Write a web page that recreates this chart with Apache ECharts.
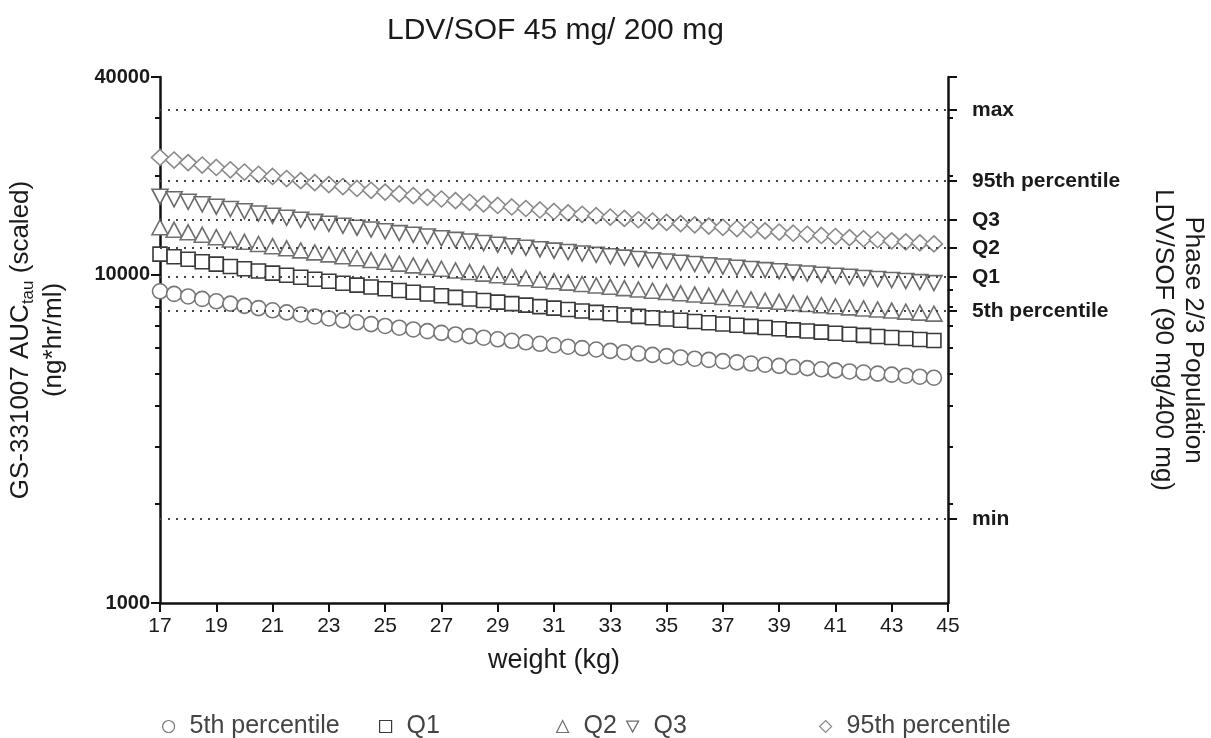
<!DOCTYPE html>
<html>
<head>
<meta charset="utf-8">
<script src="https://cdn.jsdelivr.net/npm/echarts@6/dist/echarts.min.js"></script>
<style>
  html, body { margin: 0; padding: 0; background: #fff; }
  #chart { width: 1211px; height: 738px; }
</style>
</head>
<body>
<div id="chart"></div>
<script>
// weight (kg), one marker every 0.5 kg
var weights = [17, 17.5, 18, 18.5, 19, 19.5, 20, 20.5, 21, 21.5, 22, 22.5, 23, 23.5, 24, 24.5,
  25, 25.5, 26, 26.5, 27, 27.5, 28, 28.5, 29, 29.5, 30, 30.5, 31, 31.5, 32, 32.5, 33, 33.5,
  34, 34.5, 35, 35.5, 36, 36.5, 37, 37.5, 38, 38.5, 39, 39.5, 40, 40.5, 41, 41.5, 42, 42.5,
  43, 43.5, 44, 44.5];

var p5 = [8900, 8739, 8585, 8438, 8298, 8163, 8034, 7910, 7791, 7676, 7566, 7459, 7357, 7258,
  7162, 7070, 6980, 6894, 6810, 6729, 6650, 6574, 6499, 6427, 6357, 6289, 6223, 6158, 6096,
  6035, 5975, 5917, 5860, 5805, 5751, 5698, 5647, 5597, 5548, 5500, 5453, 5407, 5362, 5318,
  5275, 5233, 5192, 5151, 5111, 5072, 5034, 4997, 4960, 4924, 4889, 4854];

var q1 = [11550, 11341, 11141, 10951, 10768, 10594, 10426, 10265, 10110, 9962, 9818, 9680,
  9547, 9419, 9295, 9175, 9059, 8946, 8838, 8732, 8630, 8531, 8435, 8341, 8250, 8162, 8076,
  7992, 7911, 7832, 7754, 7679, 7605, 7534, 7464, 7395, 7329, 7263, 7200, 7137, 7077, 7017,
  6959, 6902, 6846, 6791, 6737, 6685, 6633, 6583, 6533, 6485, 6437, 6390, 6345, 6300];

var q2 = [13950, 13698, 13457, 13227, 13006, 12795, 12592, 12398, 12211, 12032, 11859, 11692,
  11531, 11376, 11226, 11081, 10941, 10805, 10674, 10547, 10423, 10304, 10187, 10074, 9965,
  9858, 9754, 9653, 9555, 9459, 9365, 9274, 9186, 9099, 9014, 8932, 8851, 8773, 8696, 8620,
  8547, 8475, 8405, 8336, 8268, 8202, 8137, 8074, 8012, 7951, 7891, 7832, 7775, 7718, 7663, 7609];

var q3 = [17280, 16967, 16669, 16384, 16111, 15849, 15598, 15358, 15126, 14904, 14689, 14483,
  14283, 14091, 13906, 13727, 13553, 13385, 13222, 13065, 12912, 12763, 12619, 12479, 12343,
  12211, 12083, 11957, 11835, 11717, 11601, 11488, 11378, 11271, 11166, 11064, 10964, 10867,
  10771, 10678, 10587, 10498, 10411, 10325, 10242, 10160, 10080, 10001, 9924, 9849, 9775,
  9702, 9631, 9561, 9492, 9425];

var p95 = [22750, 22339, 21945, 21570, 21211, 20866, 20536, 20219, 19914, 19621, 19339, 19067,
  18805, 18552, 18307, 18072, 17843, 17622, 17408, 17200, 16999, 16804, 16614, 16429, 16250,
  16077, 15907, 15742, 15582, 15426, 15273, 15125, 14980, 14839, 14701, 14566, 14435, 14307,
  14181, 14058, 13939, 13821, 13706, 13594, 13484, 13376, 13271, 13167, 13066, 12966, 12869,
  12773, 12679, 12587, 12497, 12409];

// Phase 2/3 population reference lines (right axis)
var refNames = ['max', '95th percentile', 'Q3', 'Q2', 'Q1', '5th percentile', 'min'];
var refValues = [31750, 19300, 14680, 12060, 9840, 7750, 1803];

var seriesNames = ['5th percentile', 'Q1', 'Q2', 'Q3', '95th percentile'];
var majorTicks = [1000, 10000, 40000];
var minorTicks = [2000, 3000, 4000, 5000, 6000, 7000, 8000, 9000, 20000, 30000];

var myChart = echarts.init(document.getElementById('chart'));

function pairs(vals) {
  return weights.map(function (w, i) { return [w, vals[i]]; });
}

var txt = '#1a1a1a';
var font = 'Liberation Sans, Arial, sans-serif';

function logAxis(extra) {
  var base = {
    type: 'log',
    logBase: 10,
    min: 1000,
    max: 40000,
    splitLine: { show: false },
    axisLine: { show: false },
    axisTick: { show: false },
    axisLabel: { show: false }
  };
  return Object.assign(base, extra);
}

var yAxis = [
  logAxis({
    position: 'left',
    axisLine: { show: true, lineStyle: { color: '#111', width: 2.5 } },
    axisTick: { show: true, customValues: majorTicks, length: 9, lineStyle: { color: '#111', width: 2 } },
    axisLabel: {
      show: true, customValues: majorTicks, margin: 10,
      color: txt, fontSize: 20, fontWeight: 'bold', fontFamily: font,
      formatter: function (v) { return String(Math.round(v)); }
    },
    name: 'GS-331007 AUC{sub|tau} (scaled)\n(ng*hr/ml)',
    nameLocation: 'middle',
    nameGap: 90,
    nameTextStyle: {
      color: txt, fontSize: 26, fontFamily: font, lineHeight: 33,
      rich: { sub: { fontSize: 17, fontFamily: font, color: txt, verticalAlign: 'bottom', lineHeight: 28 } }
    }
  }),
  logAxis({
    position: 'left',
    axisTick: { show: true, customValues: minorTicks, length: 5, lineStyle: { color: '#111', width: 2 } }
  }),
  logAxis({
    position: 'right',
    axisLine: { show: true, lineStyle: { color: '#111', width: 2.5 } },
    axisTick: { show: true, customValues: refValues.concat([40000]), length: 9, lineStyle: { color: '#111', width: 2 } },
    axisLabel: {
      show: true, customValues: refValues, margin: 24,
      color: txt, fontSize: 21, fontWeight: 'bold', fontFamily: font,
      formatter: function (v) {
        for (var i = 0; i < refValues.length; i++) {
          if (Math.abs(refValues[i] - v) / refValues[i] < 0.001) return refNames[i];
        }
        return '';
      }
    },
    name: 'Phase 2/3 Population\nLDV/SOF (90 mg/400 mg)',
    nameLocation: 'middle',
    nameRotate: -90,
    nameGap: 200,
    nameTextStyle: { color: txt, fontSize: 26, fontFamily: font, lineHeight: 30 }
  }),
  logAxis({
    position: 'right',
    axisTick: { show: true, customValues: minorTicks, length: 5, lineStyle: { color: '#111', width: 2 } }
  })
];

var styles = [
  { symbol: 'circle', size: 15, color: '#777' },
  { symbol: 'rect', size: 14, color: '#3a3a3a' },
  { symbol: 'triangle', size: [16, 15], color: '#707070' },
  { symbol: 'path://M0,0 L10,0 L5,9 Z', size: [16, 15], color: '#6a6a6a' },
  { symbol: 'diamond', size: [17, 16], color: '#8a8a8a' }
];
var allData = [p5, q1, q2, q3, p95];

var series = seriesNames.map(function (name, i) {
  return {
    name: name,
    type: 'scatter',
    yAxisIndex: 0,
    symbol: styles[i].symbol,
    symbolSize: styles[i].size,
    itemStyle: { color: '#fff', borderColor: styles[i].color, borderWidth: 1.6, opacity: 1 },
    z: 3,
    data: pairs(allData[i])
  };
});

// dotted reference lines
series.push({
  name: 'ref',
  type: 'line',
  yAxisIndex: 0,
  data: [],
  silent: true,
  markLine: {
    silent: true,
    symbol: 'none',
    label: { show: false },
    lineStyle: { color: '#444', type: [2, 6], width: 1.8 },
    data: refValues.map(function (v) { return { yAxis: v }; })
  },
  z: 1
});

var legendPos = [157, 374, 551, 621, 814];
var legend = seriesNames.map(function (name, i) {
  return {
    data: [name],
    left: legendPos[i],
    top: 709,
    itemWidth: 12,
    itemHeight: 12,
    itemStyle: { borderWidth: 1.2 },
    textStyle: { color: '#444', fontSize: 25, fontFamily: font, padding: [0, 0, 0, 10] }
  };
});

myChart.setOption({
  animation: false,
  title: {
    text: 'LDV/SOF 45 mg/ 200 mg',
    left: 382,
    top: 11,
    textStyle: { color: txt, fontSize: 30, fontWeight: 'normal', fontFamily: font }
  },
  legend: legend,
  grid: { left: 160, right: 263, top: 77, bottom: 135, outerBoundsMode: 'none' },
  xAxis: {
    type: 'value',
    min: 17,
    max: 45,
    interval: 2,
    splitLine: { show: false },
    axisLine: { lineStyle: { color: '#111', width: 2.5 } },
    axisTick: { length: 9, lineStyle: { color: '#111', width: 2 } },
    axisLabel: { color: txt, fontSize: 21, fontFamily: font, margin: 13 },
    name: 'weight (kg)',
    nameLocation: 'middle',
    nameGap: 44,
    nameTextStyle: { color: txt, fontSize: 27, fontFamily: font }
  },
  yAxis: yAxis,
  series: series
});
</script>
</body>
</html>
